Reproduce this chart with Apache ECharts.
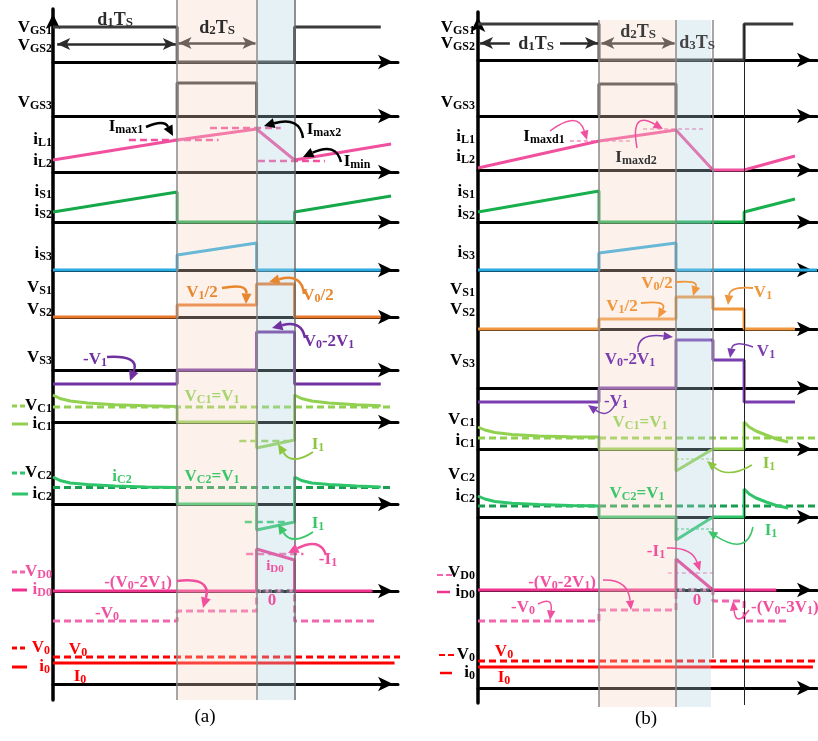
<!DOCTYPE html>
<html><head><meta charset="utf-8">
<script src="https://cdn.jsdelivr.net/npm/echarts@6/dist/echarts.min.js"></script>
<style>html,body{margin:0;padding:0;background:#fff}#c{width:818px;height:741px}</style>
</head><body><div id="c"></div>
<script>
// ================= DATA =================
// time axis: 0..100 (% of drawn time span); levels in arbitrary units (0 = row's time axis)
const edgesA = [36, 59, 70];              // end of d1Ts, end of d2Ts, end of 3rd interval
const edgesB = [35.7, 58.4, 69.3, 78.5];  // d1Ts, d2Ts, d3Ts, end of idle interval

// ---- panel (a) ----
const vgs12A = [[0,3.5],[36,3.5],[36,0],[70,0],[70,3.5],[95,3.5]];
const vgs3A  = [[36,0],[36,3.3],[59,3.3],[59,0]];
const iLA    = [[0,1.2],[36,3.2],[59,4.3],[70,1.2],[98,2.8]];
const imax1A = [[22,3.2],[48,3.2]];
const imax2A = [[45.5,4.4],[66,4.4]];
const iminA  = [[59.4,1.1],[78.8,1.1]];
const iSA    = [[0,1.0],[36,3.0],[36,0],[70,0],[70,1.0],[98,2.6]];
const iS3A   = [[0,0],[36,0],[36,1.5],[59,2.7],[59,0],[95,0]];
const vSA    = [[0,0],[36,0],[36,1.2],[59,1.2],[59,3.3],[70,3.3],[70,0],[95,0]];
const vS3A   = [[0,-1.4],[36,-1.4],[36,0],[59,0],[59,3.8],[70,3.8],[70,-1.4],[95,-1.4]];
const iC1A   = [[0,2.7],[2,2.35],[5,2.1],[10,1.9],[18,1.72],[27,1.62],[36,1.55],[36,0],[59,0],[59,-2.6],[70,-1.8],[70,2.7],[72,2.35],[75,2.1],[80,1.9],[88,1.72],[95,1.62]];
const vC1A   = [[0,1.5],[98,1.5]];
const i1C1A  = [[54,-1.9],[68,-1.9]];
const iC2A   = [[0,2.7],[2,2.35],[5,2.1],[10,1.95],[18,1.8],[27,1.7],[36,1.65],[36,0],[59,0],[59,-2.6],[70,-1.8],[70,2.7],[72,2.35],[75,2.1],[80,1.95],[88,1.8],[95,1.7]];
const vC2A   = [[0,1.65],[98,1.65]];
const i1C2A  = [[55.6,-1.8],[68,-1.8]];
const iD0A   = [[0,0],[59,0],[59,4.2],[70,3.1],[70,0],[92.6,0]];
const vD0A   = [[0,-3.0],[36,-3.0],[36,-2.0],[59,-2.0],[59,0],[70,0],[70,-3.0],[94,-3.0]];
const i1D0A  = [[56,3.7],[72.6,3.7]];
const zeroD0A= [[59,0],[70,0]];
const v0A    = [[0,2.7],[101.4,2.7]];
const i0A    = [[0,2.1],[99,2.1]];

// ---- panel (b) ----
const vgs12B = [[0,3.6],[35.7,3.6],[35.7,0],[78.5,0],[78.5,3.6],[93,3.6]];
const vgs3B  = [[35.7,0],[35.7,3.2],[58.4,3.2],[58.4,0]];
const iLB    = [[0,0.2],[35.7,2.9],[58.4,4.0],[69.3,0],[78.5,0],[93.5,1.4]];
const imaxd1B= [[27.1,2.9],[44.8,2.9]];
const imaxd2B= [[48.7,4.1],[66.7,4.1]];
const iSB    = [[0,1.0],[35.7,3.1],[35.7,0],[78.5,0],[78.5,1.0],[93.5,2.3]];
const iS3B   = [[0,0],[35.7,0],[35.7,1.7],[58.4,2.7],[58.4,0],[100,0]];
const vSB    = [[0,0],[35.7,0],[35.7,1.0],[58.4,1.0],[58.4,3.2],[69.3,3.2],[69.3,2.0],[78.5,2.0],[78.5,0],[93.5,0]];
const vS3B   = [[0,-1.4],[35.7,-1.4],[35.7,0],[58.4,0],[58.4,4.8],[69.3,4.8],[69.3,2.8],[78.5,2.8],[78.5,-1.4],[93.5,-1.4]];
const iC1B   = [[0,2.2],[2,1.9],[5,1.65],[10,1.45],[18,1.3],[27,1.22],[35.7,1.2],[35.7,0],[58.4,0],[58.4,-2.2],[69.3,0],[78.5,0],[78.5,2.7],[80,2.2],[82,1.8],[85,1.4],[88,1.0],[91.5,0.7]];
const vC1B   = [[0,1.1],[100.5,1.1]];
const i1C1B  = [[58.4,-1.0],[69.3,-1.0]];
const iC2B   = [[0,2.1],[2,1.8],[5,1.55],[10,1.38],[18,1.25],[27,1.15],[35.7,1.1],[35.7,0],[58.4,0],[58.4,-2.3],[69.3,0],[78.5,0],[78.5,2.8],[80,2.3],[82,1.9],[85,1.5],[88,1.15],[91.5,0.9]];
const vC2B   = [[0,1.1],[100.5,1.1]];
const i1C2B  = [[58.4,-1.2],[69.3,-1.2]];
const iD0B   = [[0,0],[58.4,0],[58.4,3.1],[69.3,0],[88,0]];
const vD0B   = [[0,-3.1],[35.7,-3.1],[35.7,-2.0],[58.4,-2.0],[58.4,0],[69.3,0],[69.3,-1.1],[78.5,-1.1],[78.5,-3.1],[92,-3.1]];
const i1D0B  = [[56,1.7],[69.3,1.7]];
const zeroD0B= [[58.4,0],[69.3,0]];
const v0B    = [[0,2.7],[100.5,2.7]];
const i0B    = [[0,2.1],[98.8,2.1]];

// ================= LAYOUT / STYLE =================
const FONT = '"Times New Roman","Liberation Serif",serif';
const UNIT = 10;
const panelA = {left:53, width:345, rows:[62,116,172,222,270,317,370,422,504,591,684], axisTop:9, axisBottom:700, bandTop:0, bandBottom:700};
const panelB = {left:478, width:339, rows:[60,116,170,222,270,329,388,449,517,590,688], axisTop:12, axisBottom:703, bandTop:20, bandBottom:707};
const CA = {vgs:'#3a3a3a', iL:'#f0509e', iS:'#14a84a', iS3:'#27aae1', vs:'#e8772a', vs3:'#7030a0', c1:'#92d050', c2:'#2ec46a', c2d:'#1a9e50', d0:'#f0328f', d0d:'#f266b0', o:'#ff0000'};
const CB = {vgs:'#3a3a3a', iL:'#f0509e', iS:'#17b04d', iS3:'#27aae1', vs:'#f0963c', vs3:'#7a3db0', c1:'#92d050', c2:'#2ec46a', c2d:'#1a9e50', d0:'#f0328f', d0d:'#f266b0', o:'#ff0000'};
const DASH = [7,4];
const BAND_O = 'rgba(245,215,192,0.32)', BAND_B = 'rgba(178,212,225,0.32)';

function dblArrow(pairs){
  return {silent:true, symbolSize:[9,13], label:{show:false}, lineStyle:{color:'#2b2b2b', width:2.5, type:'solid'},
    data: pairs.map(p=>[{coord:p[0], symbol:p[2]}, {coord:p[1], symbol:p[3]}])};
}

panelA.series = [
  {row:0, data:vgs12A, color:CA.vgs, markLine:dblArrow([[[1.2,1.8],[35.6,1.8],'arrow','arrow'],[[36.4,1.9],[58.7,1.9],'arrow','arrow']])},
  {row:1, data:vgs3A, color:CA.vgs},
  {row:2, data:imax1A, color:CA.iL, dash:DASH, width:2.5},
  {row:2, data:imax2A, color:CA.iL, dash:DASH, width:2.5},
  {row:2, data:iminA, color:CA.iL, dash:DASH, width:2.5},
  {row:2, data:iLA, color:CA.iL},
  {row:3, data:iSA, color:CA.iS},
  {row:4, data:iS3A, color:CA.iS3},
  {row:5, data:vSA, color:CA.vs},
  {row:6, data:vS3A, color:CA.vs3},
  {row:7, data:vC1A, color:CA.c1, dash:DASH},
  {row:7, data:i1C1A, color:CA.c1, dash:DASH, width:2.5},
  {row:7, data:iC1A, color:CA.c1},
  {row:8, data:vC2A, color:CA.c2d, dash:DASH},
  {row:8, data:i1C2A, color:CA.c2, dash:DASH, width:2.5},
  {row:8, data:iC2A, color:CA.c2},
  {row:9, data:vD0A, color:CA.d0d, dash:DASH},
  {row:9, data:i1D0A, color:CA.d0d, dash:DASH, width:2.5},
  {row:9, data:iD0A, color:CA.d0},
  {row:9, data:zeroD0A, color:'#333', dash:[3,3]},
  {row:10, data:v0A, color:CA.o, dash:DASH},
  {row:10, data:i0A, color:CA.o}
];
panelB.series = [
  {row:0, data:vgs12B, color:CB.vgs, markLine:dblArrow([[[0.6,1.7],[9.4,1.7],'arrow','none'],[[24.2,1.7],[35.4,1.7],'none','arrow'],[[36.4,1.7],[58.0,1.7],'arrow','arrow']])},
  {row:1, data:vgs3B, color:CB.vgs},
  {row:2, data:imaxd1B, color:CB.iL, dash:[4,3], width:1.2},
  {row:2, data:imaxd2B, color:CB.iL, dash:[4,3], width:1.2},
  {row:2, data:iLB, color:CB.iL},
  {row:3, data:iSB, color:CB.iS},
  {row:4, data:iS3B, color:CB.iS3},
  {row:5, data:vSB, color:CB.vs},
  {row:6, data:vS3B, color:CB.vs3},
  {row:7, data:vC1B, color:CB.c1, dash:DASH},
  {row:7, data:i1C1B, color:CB.c1, dash:[3,2], width:1.2},
  {row:7, data:iC1B, color:CB.c1},
  {row:8, data:vC2B, color:CB.c2d, dash:DASH},
  {row:8, data:i1C2B, color:CB.c2, dash:[3,2], width:1.2},
  {row:8, data:iC2B, color:CB.c2},
  {row:9, data:vD0B, color:CB.d0d, dash:DASH},
  {row:9, data:i1D0B, color:CB.d0d, dash:[4,3], width:1.2},
  {row:9, data:iD0B, color:CB.d0},
  {row:9, data:zeroD0B, color:'#333', dash:[3,3]},
  {row:10, data:v0B, color:CB.o, dash:DASH},
  {row:10, data:i0B, color:CB.o}
];
panelA.bands = [[edgesA[0],edgesA[1],BAND_O],[edgesA[1],edgesA[2],BAND_B]];
panelA.vlines = [
  {xAxis:edgesA[0], lineStyle:{color:'#8a8a8a', width:1.5}},
  {xAxis:edgesA[1], lineStyle:{color:'#8a8a8a', width:1.5}},
  {xAxis:edgesA[2], lineStyle:{color:'#6a6a6a', width:1.5}}
];
panelB.bands = [[edgesB[0],edgesB[1],BAND_O],[edgesB[1],edgesB[2]-0.6,BAND_B]];
panelB.vlines = [
  {xAxis:edgesB[0], lineStyle:{color:'#8a8a8a', width:1.5}},
  {xAxis:edgesB[1], lineStyle:{color:'#8a8a8a', width:1.5}},
  [{coord:[edgesB[2],0], lineStyle:{color:'#8a8a8a', width:1.5}},{coord:[edgesB[2],638]}],
  [{coord:[edgesB[3],4], lineStyle:{color:'#222', width:1}},{coord:[edgesB[3],685]}]
];

// ================= BUILD =================
const grids=[], xAxes=[], yAxes=[], series=[];
function noAxis(g, extra){ return Object.assign({gridIndex:g, type:'value', show:false}, extra||{}); }
function buildPanel(p){
  const g0 = grids.length;
  p.rows.forEach((y0)=>{
    const gi = grids.length;
    grids.push({left:p.left, width:p.width, top:y0-5*UNIT, height:10*UNIT});
    xAxes.push({gridIndex:gi, type:'value', min:0, max:100,
      axisLine:{show:true, onZero:true, symbol:['none','arrow'], symbolSize:[11,15], symbolOffset:[0,-5], lineStyle:{color:'#000', width:3}},
      axisTick:{show:false}, axisLabel:{show:false}, splitLine:{show:false}});
    yAxes.push({gridIndex:gi, type:'value', min:-5, max:5, show:false});
  });
  // vertical axis
  let gi = grids.length;
  grids.push({left:p.left, width:p.width, top:p.axisTop, height:p.axisBottom-p.axisTop});
  xAxes.push(noAxis(gi,{min:0,max:100}));
  yAxes.push({gridIndex:gi, type:'value', min:0, max:1,
    axisLine:{show:true, onZero:false, symbol:['none','arrow'], symbolSize:[11,15], symbolOffset:[0,-5], lineStyle:{color:'#000', width:3.5}},
    axisTick:{show:false}, axisLabel:{show:false}, splitLine:{show:false}});
  // bands
  gi = grids.length;
  const H = p.bandBottom-p.bandTop;
  grids.push({left:p.left, width:p.width, top:p.bandTop, height:H});
  xAxes.push(noAxis(gi,{min:0,max:100}));
  yAxes.push(noAxis(gi,{min:0,max:H,inverse:true}));
  series.push({type:'line', xAxisIndex:gi, yAxisIndex:gi, data:[], z:20, silent:true, animation:false,
    markArea:{silent:true, z:20, data:p.bands.map(b=>[{xAxis:b[0], itemStyle:{color:b[2]}},{xAxis:b[1]}])},
    markLine:{silent:true, z:21, animation:false, symbol:['none','none'], label:{show:false}, lineStyle:{type:'solid'}, data:p.vlines}});
  p.series.forEach(s=>{
    const g = g0 + s.row;
    series.push({type:'line', xAxisIndex:g, yAxisIndex:g, data:s.data, symbol:'none', showSymbol:false, clip:false,
      z:3, silent:true, animation:false,
      lineStyle:{color:s.color, width:s.width||3, type:s.dash||'solid'}, itemStyle:{color:s.color},
      markLine:s.markLine});
  });
}
buildPanel(panelA); buildPanel(panelB);

// ================= ANNOTATIONS =================
const G = [];
function rt(s){ return s.replace(/_\{([^}]*)\}/g, '{s|$1}'); }
function txt(x,y,s,color,o){
  o=o||{}; const size=o.size||17; const w=o.weight||'bold';
  G.push({type:'text', x, y, z:100, silent:true, style:{text:rt(s), fill:color, fontSize:size, fontFamily:FONT, fontWeight:w,
    align:o.align||'center', textAlign:o.align||'center', verticalAlign:'middle', textVerticalAlign:'middle', lineHeight:22,
    rich:{s:{fontSize:Math.round(size*0.72), fontFamily:FONT, fontWeight:w, fill:color, verticalAlign:'bottom', padding:[0,0,2,0]}}}});
}
function seg(x1,y1,x2,y2,color,dash,w){
  G.push({type:'line', z:100, silent:true, shape:{x1,y1,x2,y2}, style:{stroke:color, lineWidth:w||3, lineDash:dash||null}});
}
function carrow(x1,y1,cx,cy,x2,y2,color,w){
  w=w||2.5;
  const a=Math.atan2(y2-cy,x2-cx), L=8+w, W=3+w*0.8;
  const bx=x2-L*Math.cos(a), by=y2-L*Math.sin(a), px=-Math.sin(a)*W, py=Math.cos(a)*W;
  G.push({type:'bezierCurve', z:100, silent:true, shape:{x1,y1,x2:bx,y2:by,cpx1:cx,cpy1:cy}, style:{stroke:color, lineWidth:w, fill:null}});
  G.push({type:'polygon', z:100, silent:true, shape:{points:[[x2,y2],[bx+px,by+py],[bx-px,by-py]]}, style:{fill:color}});
}
const K='#000', OA='#e8862e', OB='#f0963c', PA='#7030a0', PB='#7a3db0', LG='#a8d470', LG2='#8cc63f', GR='#3cc66a', PK='#f0509e', RD='#ff0000';
// ---- (a) left labels ----
[[28,'V_{GS1}'],[46,'V_{GS2}'],[103,'V_{GS3}'],[140,'i_{L1}'],[161,'i_{L2}'],[192,'i_{S1}'],[212,'i_{S2}'],[254,'i_{S3}'],
 [288,'V_{S1}'],[310,'V_{S2}'],[358,'V_{S3}'],[406,'V_{C1}'],[424,'i_{C1}'],[473,'V_{C2}'],[494,'i_{C2}']].forEach(l=>txt(52,l[0],l[1],K,{align:'right'}));
txt(52,572,'V_{D0}',PK,{align:'right'}); txt(52,590,'i_{D0}',PK,{align:'right'});
txt(50,648,'V_{0}',RD,{align:'right'}); txt(50,667,'i_{0}',RD,{align:'right'});
seg(12,406,17,406,CA.c1); seg(20,406,25,406,CA.c1); seg(12,424,28,424,CA.c1);
seg(12,473,17,473,CA.c2); seg(20,473,25,473,CA.c2); seg(12,494,28,494,CA.c2);
seg(12,572,17,572,CA.d0d); seg(20,572,25,572,CA.d0d); seg(12,590,27,590,CA.d0);
seg(12,648,17,648,RD); seg(20,648,25,648,RD); seg(12,667,27,667,RD);
txt(115,20,'d_{1}T_{S}','#2b2b2b',{size:18}); txt(217,28,'d_{2}T_{S}','#2b2b2b',{size:18});
txt(126,127,'I_{max1}',K); txt(324,130,'I_{max2}',K); txt(357,162,'I_{min}',K);
txt(202,293,'V_{1}/2',OA); txt(318,296,'V_{0}/2',OA);
txt(329,342,'V_{0}-2V_{1}',PA); txt(95,360,'-V_{1}',PA);
txt(212,397,'V_{C1}=V_{1}',LG); txt(318,445,'I_{1}',LG2);
txt(122,477,'i_{C2}',GR); txt(212,477,'V_{C2}=V_{1}',GR); txt(318,524,'I_{1}',GR);
txt(328,560,'-I_{1}',PK); txt(275,566,'i_{D0}',PK,{size:15});
txt(138,583,'-(V_{0}-2V_{1})',PK); txt(107,614,'-V_{0}',PK); txt(272,601,'0',PK);
txt(78,650,'V_{0}',RD); txt(80,677,'I_{0}',RD);
txt(205,717,'(a)',K,{size:19, weight:'normal'});
carrow(146,127,164,119,173,136,K,2.5);
carrow(303,138,300,116,264,126,K,2.5);
carrow(341,162,336,142,303,157,K,2.5);
carrow(222,288,247,283,246,304,OA,2.5);
carrow(304,294,302,273,269,282,OA,2.5);
carrow(305,338,302,320,272,328,PA,2.5);
carrow(107,357,140,355,130,381,PA,2.5);
carrow(313,452,292,466,278,444,LG2,2);
carrow(313,532,292,546,278,524,GR,2);
carrow(326,555,320,537,288,553,PK,2.5);
carrow(177,581,212,577,203,608,PK,2.5);
// ---- (b) left labels ----
[[28,'V_{GS1}'],[44,'V_{GS2}'],[103,'V_{GS3}'],[137,'i_{L1}'],[157,'i_{L2}'],[192,'i_{S1}'],[213,'i_{S2}'],[253,'i_{S3}'],
 [290,'V_{S1}'],[310,'V_{S2}'],[361,'V_{S3}'],[420,'V_{C1}'],[441,'i_{C1}'],[475,'V_{C2}'],[496,'i_{C2}'],
 [573,'V_{D0}'],[592,'i_{D0}'],[655,'V_{0}'],[673,'i_{0}']].forEach(l=>txt(475,l[0],l[1],K,{align:'right'}));
seg(437,575,443,575,CB.d0d,null,2); seg(446,575,452,575,CB.d0d,null,2); seg(437,592,450,592,CB.d0,null,2.5);
seg(439,655,445,655,RD,null,2); seg(448,655,454,655,RD,null,2); seg(440,673,452,673,RD,null,2.5);
txt(536,44,'d_{1}T_{S}','#2b2b2b',{size:18}); txt(638,32,'d_{2}T_{S}','#3a3a3a',{size:18}); txt(697,43,'d_{3}T_{S}','#444',{size:18});
txt(544,137,'I_{maxd1}',K); txt(636,158,'I_{maxd2}','#333');
txt(657,284,'V_{0}/2',OB); txt(622,307,'V_{1}/2',OB); txt(763,293,'V_{1}',OB);
txt(630,360,'V_{0}-2V_{1}',PB); txt(766,352,'V_{1}',PB); txt(616,402,'-V_{1}',PB);
txt(640,423,'V_{C1}=V_{1}',LG); txt(769,464,'I_{1}',LG2);
txt(637,494,'V_{C2}=V_{1}',GR); txt(771,531,'I_{1}',GR);
txt(656,552,'-I_{1}',PK); txt(562,583,'-(V_{0}-2V_{1})',PK); txt(523,608,'-V_{0}',PK); txt(697,601,'0',PK);
txt(751,608,'-(V_{0}-3V_{1})',PK,{align:'left'});
txt(504,652,'V_{0}',RD); txt(504,678,'I_{0}',RD);
txt(646,719,'(b)',K,{size:19, weight:'normal'});
carrow(550,131,578,110,587,140,PK,1.5);
carrow(637,148,630,110,663,129,PK,1.5);
carrow(676,282,698,280,693,296,OB,1.8);
carrow(641,303,668,300,658,318,OB,1.8);
carrow(753,288,730,286,728,305,OB,1.8);
carrow(638,352,636,333,673,337,PB,1.5);
carrow(753,347,733,340,730,358,PB,1.5);
carrow(616,403,608,419,588,405,PB,1.5);
carrow(752,465,728,479,707,461,LG2,1.5);
carrow(753,527,747,556,708,531,GR,1.5);
carrow(667,548,692,547,700,571,PK,1.5);
carrow(603,580,628,579,631,610,PK,1.5);
carrow(538,604,553,596,550,620,PK,1.5);
carrow(749,610,736,628,733,601,PK,1.5);

const chart = echarts.init(document.getElementById('c'), null, {renderer:'canvas', width:818, height:741});
chart.setOption({animation:false, backgroundColor:'#fff', grid:grids, xAxis:xAxes, yAxis:yAxes, series:series, graphic:{elements:G}});
</script></body></html>
